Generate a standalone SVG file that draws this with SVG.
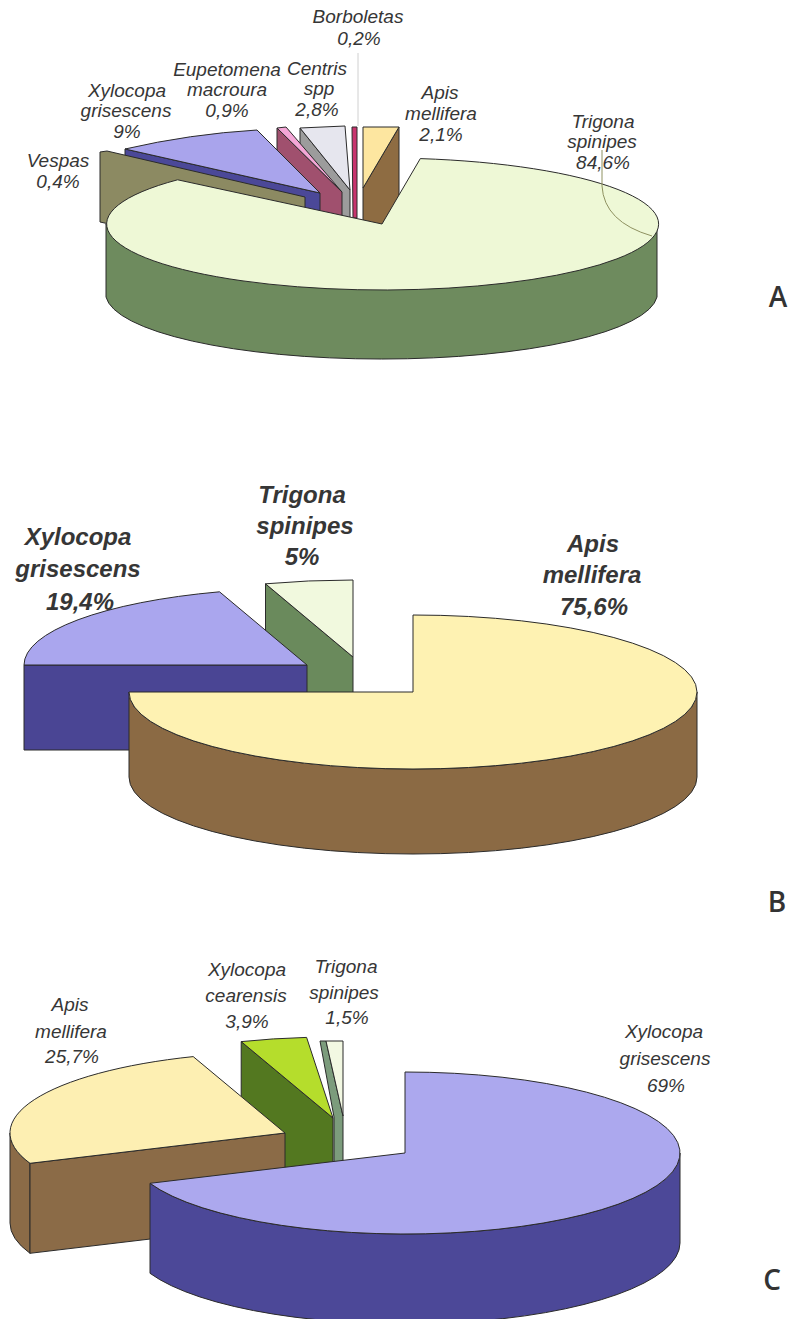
<svg xmlns="http://www.w3.org/2000/svg" width="788" height="1319" viewBox="0 0 788 1319">
<style>
.s{stroke:#2b2b2b;stroke-width:1;stroke-linejoin:round}
.t{font-family:"Liberation Sans",Arial,sans-serif;font-style:italic;font-size:19px;fill:#363636;text-anchor:middle}
.tb{font-family:"Liberation Sans",Arial,sans-serif;font-style:italic;font-weight:bold;font-size:24px;fill:#363636;text-anchor:middle}
.L{font-family:"Open Sans","Liberation Sans",sans-serif;font-weight:600;font-size:28px;fill:#333;text-anchor:middle}
</style>
<rect width="788" height="1319" fill="#fff"/>

<!-- ===== Chart A ===== -->
<g id="A-borboletas">
<polygon class="s" points="352,127 357,127 357,218 353,218" fill="#C8346E"/>
</g>
<g id="A-apis">
<polygon class="s" points="399,127 363,188 363,258 399,197" fill="#8E6C42"/>
<polygon class="s" points="363,127 399,127 363,188" fill="#FDE6A0"/>
</g>
<g id="A-centris">
<polygon class="s" points="300,128 350,190 350,260 300,198" fill="#9C9C9C"/>
<polygon class="s" points="300,128 345,126 350,190" fill="#E6E6EE"/>
</g>
<g id="A-eupetomena">
<polygon class="s" points="277,128 342,192 342,262 277,198" fill="#A0506E"/>
<polygon class="s" points="277,128 286,127 342,192" fill="#F4A6D6"/>
</g>
<g id="A-xylocopa">
<polygon class="s" points="125,149 320,193 320,263 125,219" fill="#4B4898"/>
<path class="s" d="M320,193 L125,149 Q190,134 257,130 Z" fill="#A9A4EC"/>
</g>
<g id="A-vespas">
<polygon class="s" points="100,152 107,151 305,197 305,267 100,222" fill="#8C8A62"/>
</g>
<g id="A-trigona">
<path class="s" d="M657,224 A276 66 0 0 1 106,224 L106,297 A276 66 0 0 0 657,297 Z" fill="#6E8B5E"/>
<path class="s" d="M382,224 L420.3,158.6 A276 66 0 1 1 177.6,179.8 Z" fill="#EEF8D6"/>
</g>
<g id="A-labels">
<text class="t" x="358" y="23">Borboletas</text>
<text class="t" x="359" y="45">0,2%</text>
<text class="t" x="227" y="76">Eupetomena</text>
<text class="t" x="227" y="96">macroura</text>
<text class="t" x="227" y="117">0,9%</text>
<text class="t" x="317" y="75">Centris</text>
<text class="t" x="319" y="95">spp</text>
<text class="t" x="317" y="116">2,8%</text>
<text class="t" x="127" y="97">Xylocopa</text>
<text class="t" x="126" y="117">grisescens</text>
<text class="t" x="127" y="138">9%</text>
<text class="t" x="58" y="167">Vespas</text>
<text class="t" x="58" y="188">0,4%</text>
<text class="t" x="440" y="99">Apis</text>
<text class="t" x="441" y="120">mellifera</text>
<text class="t" x="441" y="141">2,1%</text>
<text class="t" x="603" y="128">Trigona</text>
<text class="t" x="602" y="148">spinipes</text>
<text class="t" x="603" y="169">84,6%</text>
<text class="L" x="778" y="307">A</text>
</g>

<!-- ===== Chart B ===== -->
<g id="B-trigona">
<polygon class="s" points="265.5,583.8 353,657 353,742 265.5,668.8" fill="#6A8A5C"/>
<path class="s" d="M353,657 L265.5,583.8 A284 77 0 0 1 353,580 Z" fill="#F1F9DE"/>
</g>
<g id="B-xylocopa">
<polygon class="s" points="24,665 307,665 307,750 24,750" fill="#4A4594"/>
<path class="s" d="M307,665 L24,665 A283 77 0 0 1 219.5,591.8 Z" fill="#AAA6EE"/>
</g>
<g id="B-apis">
<path class="s" d="M129,692 A284 77 0 0 0 697,692 L697,777 A284 77 0 0 1 129,777 Z" fill="#8B6A44"/>
<path class="s" d="M413,692 L129,692 A284 77 0 1 0 413,615 Z" fill="#FEF2B2"/>
</g>
<g id="B-labels">
<text class="tb" x="78" y="545">Xylocopa</text>
<text class="tb" x="78" y="577">grisescens</text>
<text class="tb" x="80" y="610">19,4%</text>
<text class="tb" x="302" y="503">Trigona</text>
<text class="tb" x="305" y="534">spinipes</text>
<text class="tb" x="302" y="565">5%</text>
<text class="tb" x="593" y="552">Apis</text>
<text class="tb" x="592" y="583">mellifera</text>
<text class="tb" x="594" y="615">75,6%</text>
<text class="L" x="777" y="912">B</text>
</g>

<!-- ===== Chart C ===== -->
<g id="C-trigona">
<polygon class="s" points="320,1041 326,1041 343,1116 343,1165 334,1165 334,1117" fill="#7C9C7C"/>
<polygon class="s" points="326,1041 343,1041 343,1116" fill="#F2F8E2"/>
</g>
<g id="C-cearensis">
<polygon class="s" points="241.2,1041.6 333,1118 333,1208 241.2,1131.6" fill="#537820"/>
<path class="s" d="M333,1118 L241.2,1041.6 A275 81 0 0 1 306.6,1037.4 Z" fill="#B5DD2C"/>
</g>
<g id="C-apis">
<path class="s" d="M30,1163.3 A275 81 0 0 1 10,1133 L10,1223 A275 81 0 0 0 30,1253.3 Z" fill="#8B6B47"/>
<polygon class="s" points="30,1163.3 285,1133 285,1223 30,1253.3" fill="#8B6B47"/>
<path class="s" d="M285,1133 L30,1163.3 A275 81 0 0 1 193.2,1056.6 Z" fill="#FDEFB2"/>
</g>
<g id="C-xylocopa">
<path class="s" d="M680,1153 A275 81 0 0 1 150,1183.3 L150,1273.3 A275 81 0 0 0 680,1243 Z" fill="#4C4898"/>
<path class="s" d="M405,1153 L405,1072 A275 81 0 1 1 150,1183.3 Z" fill="#ACA8EE"/>
</g>
<g id="C-labels">
<text class="t" x="70" y="1011">Apis</text>
<text class="t" x="71" y="1038">mellifera</text>
<text class="t" x="72" y="1063">25,7%</text>
<text class="t" x="247" y="976">Xylocopa</text>
<text class="t" x="246" y="1002">cearensis</text>
<text class="t" x="247" y="1028">3,9%</text>
<text class="t" x="346" y="973">Trigona</text>
<text class="t" x="344" y="999">spinipes</text>
<text class="t" x="347" y="1024">1,5%</text>
<text class="t" x="664" y="1038">Xylocopa</text>
<text class="t" x="665" y="1065">grisescens</text>
<text class="t" x="666" y="1092">69%</text>
<text class="L" x="772" y="1290">C</text>
</g>

<g id="connectors" fill="none">
<line x1="358" y1="53" x2="358" y2="126" stroke="#d0d0d0" stroke-width="1"/>
<path d="M602,150 L602,186 Q604,222 652,236" stroke="#8E9160" stroke-width="1"/>
</g>
</svg>
